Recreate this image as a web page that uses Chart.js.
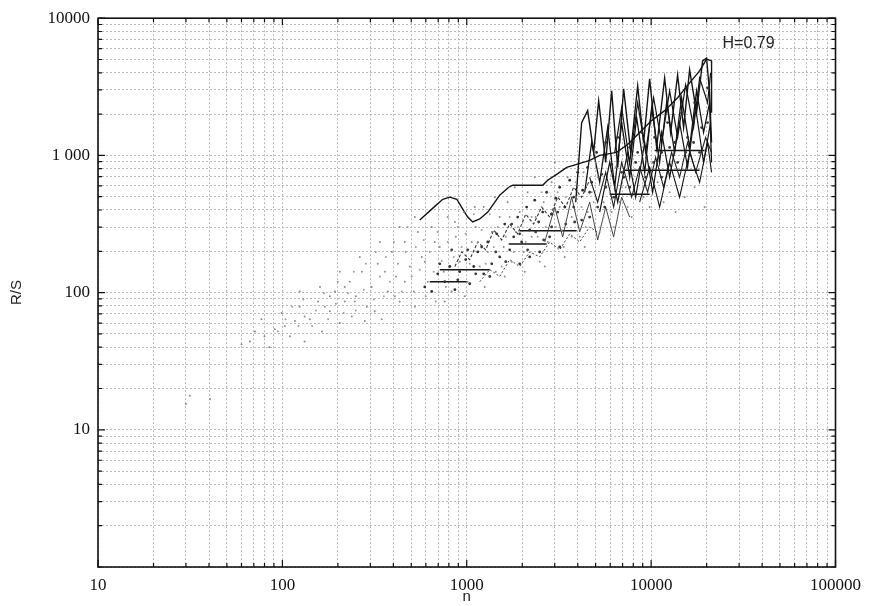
<!DOCTYPE html>
<html><head><meta charset="utf-8">
<script src="https://cdn.jsdelivr.net/npm/chart.js@4/dist/chart.umd.min.js"></script>
<style>html,body{margin:0;padding:0;background:#fff}#wrap{width:869px;height:606px}</style>
</head><body><div id="wrap"><canvas id="c" width="869" height="606"></canvas></div>
<script>
// ---- tick labels ----
const xTickLabels = {10:'10', 100:'100', 1000:'1000', 10000:'10000', 100000:'100000'};
const yTickLabels = {10:'10', 100:'100', 1000:'1 000', 10000:'10000'};
const xDecades = [10, 100, 1000, 10000];
const yDecades = [1, 10, 100, 1000];
const mantissas = [1, 2, 3, 4, 5, 6, 7, 8, 9];
const xMax = 100000, yMax = 10000;

// ---- annotation ----
const hLabel = 'H=0.79';
const hPos = [24400, 6480];

// ---- faint cloud of R/S points ----
const cloudN = [30,31.5,40.5,60,66.7,71,77,85,91,99,110,117,124,132,141,156,164,181,193,205,218,232,238,250,270,287,305,329,346,374,393,413,433,461,491,516,543,570,614,646,679,714,750,789,829,872,916,963,1010,1064,1119,1176,1236,1300,1366,1437,1509,1586,1667,1753,1843,1937,2036,2140,2249,2365,2487,2614,2748,2888,3038,3193,3356,3528,3708,3899,4097,4306,4527,4758,5004,5260,5528,5812,6109,6425,6750,7277,7841,8453,9107,9815,10850,11690,12600,13580,15200,17220,19510,
  124,160,205,263,338,433,523,80,103,170,218,280,360,461,592,760,976,1252,1607,2063,2649,3400,4363,132,181,247,317,408,523,671,862,1105,1420,1821,2337,3001];
const cloudRS = [15.4,17.7,16.8,42,44,52,64,40,54,71,48,62,79,44,64,86,52,73,102,60,86,120,67,94,142,79,110,162,64,102,198,131,86,234,155,102,277,182,120,301,86,215,142,355,102,255,168,386,120,234,301,155,420,198,277,142,355,215,456,168,277,386,198,539,255,355,168,456,234,637,301,420,215,693,355,496,255,753,386,539,889,277,456,637,386,818,456,586,355,693,496,420,637,456,539,386,496,586,420,
  102,110,142,182,234,301,355,48,57,79,110,62,142,120,168,86,94,110,131,142,155,182,215,67,94,86,73,94,79,234,327,420,496,586,693,889];
const cloud2N = [94.5,104,113,122,130,145,152,168,177,195,200,215,227,244,250,276,284,313,321,338,355,364,383,403,423,444,467,478,503,529,556,584,599,630,662,696,732,770,789,850,894,939,987,1038,1091,1147,1205,1268,1333,1401,1473,1547,1627,1710,1797,1890,2088,2249,2424,2549,2681,2962,3114,3273,3442,3708,3899,4199,4417,4879,5129,5528,5960,6264,6919,7459];
const cloud2RS = [52,64,79,57,89,57,74,99,64,83,120,71,99,142,74,105,162,89,198,131,94,182,120,234,162,102,198,301,131,215,147,242,94,198,142,277,170,110,234,182,301,215,268,162,373,234,286,162,373,215,301,155,255,355,198,301,234,355,255,539,301,373,539,286,496,255,637,420,301,456,693,355,539,301,586,420];

// ---- darker R/S points ----
const darkN = [592,646,696,760,809,862,916,987,1038,1091,1147,1236,1300,1366,1454,1509,1607,1710,1797,1890,1985,2113,2194,2337,2455,2582,2713,2888,3038,3193,3400,3617,3801,3997,4253,4527,4758,5064,5392,5670,6109,6586,7094,7650,8247,8882,9453,10450,11400,12290,13420,14630,15770,17220,18780,20240,
  1937,2194,2487,2818,3193,3849,4642,5600];
const darkRS = [110,102,137,120,155,105,142,174,116,155,198,137,234,162,268,182,316,205,255,355,234,420,286,472,327,386,539,373,488,586,420,659,496,753,557,818,637,1051,728,1242,860,1351,693,1143,889,1468,967,1351,1051,1735,1242,2050,1351,2420,1596,3110,
  162,182,198,255,215,327,355,420];
const dark2N = [714,829,894,1012,1119,1205,1333,1437,1627,1753,1937,2140,2365,2614,2888,3114,3442,3801,4199,4642,5129,5670,6264,6919,7650,8453,9341,10315,11398,12600,13923,15383,16995,18320,20244];
const dark2RS = [162,205,124,205,137,215,131,198,168,316,268,205,277,242,301,386,316,420,338,539,420,586,496,753,586,1051,693,889,693,1143,889,1051,1242,1051,1735];

// ---- connected R/S curves ----
const aN  = [556,646,741,809,883,951,1012,1077,1176,1300,1420,1509,1689,1775,2582,2748,3074,3484,3946,4642,5260,6502,7459,8665,10060,11840,13920,16170,18320,19990,21270,21270];
const aRS = [338,406,479,496,479,406,355,327,344,386,456,513,586,606,606,659,728,818,860,919,1000,1051,1201,1468,1794,2120,2630,3380,4130,5040,4880,2050];
const bN  = [3899,4199,4527,4879,5194,5670,6109,6586,7094,7750,8453,9107,9815,10710,11840,12760,13920,15000,16170,17640,19020,19990,20750,21270];
const bRS = [456,1735,2120,1051,2500,889,2960,818,3060,1051,3210,1242,3610,1143,3670,1468,3860,1596,4200,2050,4880,5120,2860,1242];
const cN  = [4363,4758,5260,5812,6347,6919,7650,8346,9228,10060,11120,12130,13420,14630,16170,17640,19250,20750,21270];
const cRS = [539,1242,637,1596,586,1735,693,1886,753,2226,889,2420,1051,2631,1143,2960,1468,2420,889];
const dN  = [5260,5960,6586,7459,8247,9228,10190,11400,12600,14270,15770,17430,19250,21020];
const dRS = [386,889,456,1051,496,1242,539,1468,693,1735,818,2226,889,1735];
const eN  = [8665,9815,11120,12600,14270,16170,18320,20240,21270];
const eRS = [456,818,420,889,496,1051,637,1242,753];
const fN  = [2649,3001,3314,3708,4097,4642,5129,5670,6264,6919,7650];
const fRS = [234,420,255,496,277,456,242,420,255,496,355];
const gN  = [6347,6919,7650,8453,9341,10315,11398,12600,13923,15383,16995,18320,20244,21020];
const gRS = [1051,2226,889,2420,1051,2631,1242,2957,1351,3268,1596,3671,2420,3990];
const hN  = [4642,5129,5670,6264,6919,7841,8665,9575,10581,11687,12915,14270,15768,17431,19749,21270];
const hRS = [693,456,753,420,889,496,818,539,967,586,1051,693,1242,753,1351,1051];
// broken (dashed-looking) mid curves
const iN  = [862,939,1038,1147,1268,1401,1547,1710,1890,2088,2306,2549,2818,3114,3442,3801,4199,4642];
const iRS = [155,198,174,234,205,286,242,316,268,373,316,420,355,496,420,586,496,659];
const jN  = [1176,1333,1509,1710,1937,2194,2487,2818,3193,3617,4097,4642,5260];
const jRS = [120,147,131,174,155,198,182,234,205,268,234,301,268];

// ---- flat runs ----
const flatStart = [630, 714, 1689, 1937, 5960, 7189, 10450];
const flatEnd   = [1000, 1333, 2713, 3946, 9815, 18320, 19510];
const flatLevel = [120, 147, 226, 282, 521, 779, 1087];

// ---- build ----
const xGrid = [];
xDecades.forEach(d => mantissas.forEach(m => xGrid.push(d * m)));
xGrid.push(xMax);
const yGrid = [];
yDecades.forEach(d => mantissas.forEach(m => yGrid.push(d * m)));
yGrid.push(yMax);

const pts = (ns, rs) => ns.map((n, i) => ({x: n, y: rs[i]}));
const lineDs = (ns, rs, w, c, dash) => ({data: pts(ns, rs), showLine: true, pointRadius: 0, borderColor: c || '#151515', borderWidth: w, borderDash: dash || [], fill: false, tension: 0});
const dotDs = (ns, rs, r, c) => ({data: pts(ns, rs), showLine: false, pointRadius: r, pointBackgroundColor: c, pointBorderWidth: 0});

const datasets = [
  dotDs(cloudN, cloudRS, 1, '#8a8a8a'),
  dotDs(cloud2N, cloud2RS, 1, '#9a9a9a'),
  dotDs(darkN, darkRS, 1.4, '#303030'),
  dotDs(dark2N, dark2RS, 1.4, '#3a3a3a'),
  lineDs(iN, iRS, 1.1, '#333', [3, 2]),
  lineDs(jN, jRS, 1, '#444', [2, 2]),
  lineDs(aN, aRS, 1.4),
  lineDs(bN, bRS, 1.4),
  lineDs(cN, cRS, 1.3),
  lineDs(dN, dRS, 1.2),
  lineDs(eN, eRS, 1.1),
  lineDs(fN, fRS, 0.9, '#333'),
  lineDs(gN, gRS, 1.2),
  lineDs(hN, hRS, 1.1, '#222')
];
flatLevel.forEach((lv, i) => datasets.push(lineDs([flatStart[i], flatEnd[i]], [lv, lv], 1.5)));

const tickFont = {family: 'Liberation Serif', size: 17};
const titleFont = {family: 'Liberation Sans', size: 15};

const framePlugin = {
  id: 'frame',
  afterDraw(chart) {
    const {ctx, chartArea: a, scales: {x, y}} = chart;
    ctx.save();
    ctx.strokeStyle = '#111';
    ctx.lineWidth = 1.2;
    ctx.beginPath();
    x.ticks.forEach(t => {
      const p = x.getPixelForValue(t.value);
      const L = xTickLabels[t.value] ? 7 : 4;
      ctx.moveTo(p, a.bottom); ctx.lineTo(p, a.bottom - L);
      ctx.moveTo(p, a.top); ctx.lineTo(p, a.top + L);
    });
    y.ticks.forEach(t => {
      const p = y.getPixelForValue(t.value);
      const L = yTickLabels[t.value] ? 7 : 4;
      ctx.moveTo(a.left, p); ctx.lineTo(a.left + L, p);
      ctx.moveTo(a.right, p); ctx.lineTo(a.right - L, p);
    });
    ctx.stroke();
    ctx.lineWidth = 1.6;
    ctx.strokeRect(a.left, a.top, a.right - a.left, a.bottom - a.top);
    ctx.font = '16px "Liberation Sans"';
    ctx.fillStyle = '#222';
    ctx.textAlign = 'left';
    ctx.textBaseline = 'middle';
    ctx.fillText(hLabel, x.getPixelForValue(hPos[0]), y.getPixelForValue(hPos[1]));
    ctx.restore();
  }
};

new Chart(document.getElementById('c'), {
  type: 'scatter',
  data: {datasets},
  options: {
    responsive: false,
    devicePixelRatio: 1,
    animation: false,
    layout: {padding: {top: 15, right: 33, bottom: 0, left: 0}},
    plugins: {legend: {display: false}, tooltip: {enabled: false}},
    scales: {
      x: {
        type: 'logarithmic', min: 10, max: xMax, position: 'bottom',
        grid: {color: '#b8b8b8', lineWidth: 1, drawTicks: false},
        border: {display: false, dash: [2, 2]},
        ticks: {autoSkip: false, maxRotation: 0, minRotation: 0, padding: 8, font: tickFont, color: '#111',
                callback: v => xTickLabels[v] ?? ''},
        title: {display: true, text: 'n', font: titleFont, color: '#222', padding: {top: 0, bottom: 0}},
        afterBuildTicks: s => { s.ticks = xGrid.map(v => ({value: v})); },
        afterFit: s => { s.height = 39; }
      },
      y: {
        type: 'logarithmic', min: 1, max: yMax, position: 'left',
        grid: {color: '#b8b8b8', lineWidth: 1, drawTicks: false},
        border: {display: false, dash: [2, 2]},
        ticks: {autoSkip: false, padding: 8, font: tickFont, color: '#111',
                callback: v => yTickLabels[v] ?? ''},
        title: {display: true, text: 'R/S', font: titleFont, color: '#222', padding: {top: 8, bottom: 0}},
        afterBuildTicks: s => { s.ticks = yGrid.map(v => ({value: v})); },
        afterFit: s => { s.width = 98; }
      }
    }
  },
  plugins: [framePlugin]
});
</script>
</body></html>
